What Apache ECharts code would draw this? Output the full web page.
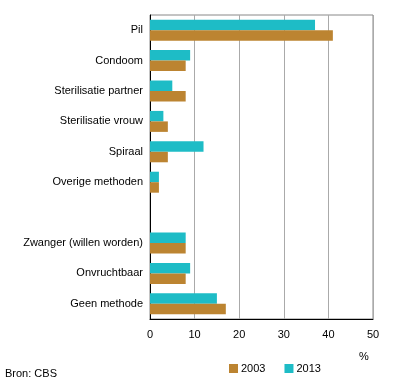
<!DOCTYPE html>
<html>
<head>
<meta charset="utf-8">
<script src="https://cdn.jsdelivr.net/npm/echarts@6/dist/echarts.min.js"></script>
<style>html,body{margin:0;padding:0;background:#fff;}#c{width:396px;height:384px;}</style>
</head>
<body>
<div id="c"></div>
<script>
var categories = ['Pil','Condoom','Sterilisatie partner','Sterilisatie vrouw','Spiraal','Overige methoden','','Zwanger (willen worden)','Onvruchtbaar','Geen methode'];
var values2003 = [41, 8, 8, 4, 4, 2, null, 8, 8, 17];
var values2013 = [37, 9, 5, 3, 12, 2, null, 8, 9, 15];
var xTicks = [0, 10, 20, 30, 40, 50];

var FONT = '"Liberation Sans", Arial, sans-serif';
var chart = echarts.init(document.getElementById('c'), null, {renderer: 'canvas'});
chart.setOption({
  animation: false,
  textStyle: {fontFamily: FONT},
  grid: {left: 150, right: 23, top: 15, bottom: 65, show: true, borderColor: '#888', borderWidth: 1, backgroundColor: 'transparent'},
  legend: {
    data: ['2003', '2013'],
    left: 229, top: 363,
    itemWidth: 9, itemHeight: 9, itemGap: 19,
    icon: 'rect',
    textStyle: {fontFamily: FONT, fontSize: 11, color: '#000', padding: [0,0,0,-2]},
    padding: 0
  },
  xAxis: {
    type: 'value', min: xTicks[0], max: xTicks[xTicks.length-1], interval: 10,
    axisLine: {show: true, lineStyle: {color: '#000', width: 1}},
    axisTick: {show: false},
    axisLabel: {color: '#000', fontSize: 11, fontFamily: FONT, margin: 10},
    splitLine: {show: true, lineStyle: {color: '#aaa', width: 1}}
  },
  yAxis: {
    type: 'category', data: categories, inverse: true,
    axisLine: {show: true, lineStyle: {color: '#000', width: 1}},
    axisTick: {show: false},
    axisLabel: {color: '#000', fontSize: 11, fontFamily: FONT, margin: 7},
    splitLine: {show: false}
  },
  graphic: [
    {type: 'text', left: 359, top: 351, style: {text: '%', font: '11px ' + FONT, fill: '#000'}},
    {type: 'text', left: 5, top: 368, style: {text: 'Bron: CBS', font: '11px ' + FONT, fill: '#000'}}
  ],
  series: [
    {name: '2013', type: 'bar', data: values2013, barGap: '0%', barCategoryGap: '31%', itemStyle: {color: '#1ebcc6'}},
    {name: '2003', type: 'bar', data: values2003, barGap: '0%', barCategoryGap: '31%', itemStyle: {color: '#bc8431'}}
  ]
});
</script>
</body>
</html>
